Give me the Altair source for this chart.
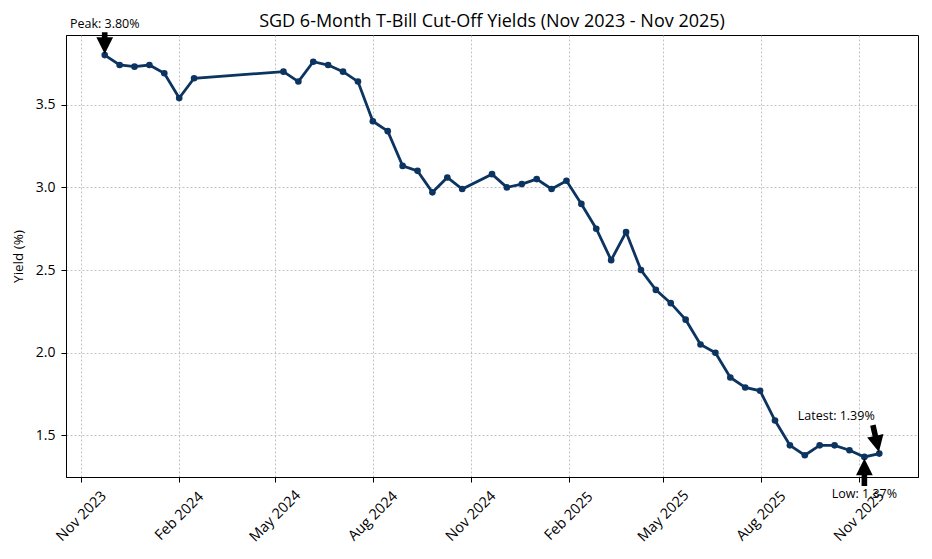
import math
import altair as alt
import pandas as pd

# ---------------- data ----------------
auction_dates = [
    "2023-11-23", "2023-12-07", "2023-12-21", "2024-01-04", "2024-01-18", "2024-02-01", "2024-02-15",
    "2024-05-09", "2024-05-23", "2024-06-06", "2024-06-20", "2024-07-04", "2024-07-18", "2024-08-01",
    "2024-08-15", "2024-08-29", "2024-09-12", "2024-09-26", "2024-10-10", "2024-10-24",
    "2024-11-21", "2024-12-05", "2024-12-19", "2025-01-02", "2025-01-16", "2025-01-30", "2025-02-13",
    "2025-02-27", "2025-03-13", "2025-03-27", "2025-04-10", "2025-04-24", "2025-05-08", "2025-05-22",
    "2025-06-05", "2025-06-19", "2025-07-03", "2025-07-17", "2025-07-31", "2025-08-14", "2025-08-28",
    "2025-09-11", "2025-09-25", "2025-10-09", "2025-10-23", "2025-11-06", "2025-11-20",
]
cutoff_yields = [
    3.80, 3.74, 3.73, 3.74, 3.69, 3.54, 3.66,
    3.70, 3.64, 3.76, 3.74, 3.70, 3.64, 3.40,
    3.34, 3.13, 3.10, 2.97, 3.06, 2.99,
    3.08, 3.00, 3.02, 3.05, 2.99, 3.04, 2.90,
    2.75, 2.56, 2.73, 2.50, 2.38, 2.30, 2.20,
    2.05, 2.00, 1.85, 1.79, 1.77, 1.59, 1.44,
    1.38, 1.44, 1.44, 1.41, 1.37, 1.39,
]
x_tick_dates = ["2023-11-01", "2024-02-01", "2024-05-01", "2024-08-01", "2024-11-01",
                "2025-02-01", "2025-05-01", "2025-08-01", "2025-11-01"]
y_ticks = [1.5, 2.0, 2.5, 3.0, 3.5]
chart_title = "SGD 6-Month T-Bill Cut-Off Yields (Nov 2023 - Nov 2025)"
y_title = "Yield (%)"

FONT = "Open Sans"
NAVY = "#0c3461"

df = pd.DataFrame({"date": auction_dates, "yield": cutoff_yields})

# ---------------- scale domains (5% margins like matplotlib) ----------------
ts = pd.to_datetime(df["date"])
span = ts.max() - ts.min()
x_lo = ts.min() - span * 0.05
x_hi = ts.max() + span * 0.05
yr = max(cutoff_yields) - min(cutoff_yields)
y_lo = min(cutoff_yields) - 0.05 * yr
y_hi = max(cutoff_yields) + 0.05 * yr


def dt(t):
    t = pd.Timestamp(t)
    return alt.DateTime(year=t.year, month=t.month, date=t.day,
                        hours=t.hour, minutes=t.minute, utc=True)


x_scale = alt.Scale(type="utc", domain=[dt(x_lo), dt(x_hi)], nice=False)
y_scale = alt.Scale(domain=[y_lo, y_hi], nice=False, zero=False)

X = alt.X("date:T", scale=x_scale, title=None,
          axis=alt.Axis(values=[dt(d) for d in x_tick_dates],
                        labelExpr="utcFormat(datum.value, '%b %Y')",
                        labelAngle=-45, labelAlign="center", labelBaseline="middle",
                        labelPadding=34, tickSize=5, grid=True, labelFontSize=14.5))
Y = alt.Y("yield:Q", scale=y_scale, title=y_title,
          axis=alt.Axis(values=y_ticks, format=".1f", tickSize=5, labelPadding=6, grid=True,
                        labelFontSize=14,
                        titleX=-48, titleY=221, titleAngle=-90, titleAlign="center",
                        titleBaseline="middle"))

base = alt.Chart(df)
line = base.mark_line(color=NAVY, strokeWidth=2.8).encode(x=X, y=Y)
dots = base.mark_point(filled=True, color=NAVY, size=44, opacity=1, strokeWidth=0).encode(x=X, y=Y)

# ---------------- annotations ----------------
i_peak = cutoff_yields.index(max(cutoff_yields))
i_low = cutoff_yields.index(min(cutoff_yields))
i_last = len(cutoff_yields) - 1
notes = pd.DataFrame({
    "date": [auction_dates[i_peak], auction_dates[i_low], auction_dates[i_last]],
    "yield": [cutoff_yields[i_peak], cutoff_yields[i_low], cutoff_yields[i_last]],
    "label": [f"Peak: {cutoff_yields[i_peak]:.2f}%", f"Low: {cutoff_yields[i_low]:.2f}%",
              f"Latest: {cutoff_yields[i_last]:.2f}%"],
    "kind": ["peak", "low", "latest"],
})


def arrow_path(sx, sy, shrink=0.05, head_len=16.7, head_w=8.35, shaft_w=2.8):
    """Filled matplotlib-style arrow (path units = px with size=4) from text toward the point."""
    tipx, tipy = shrink * sx, shrink * sy
    tailx, taily = (1 - shrink) * sx, (1 - shrink) * sy
    L = math.hypot(tipx - tailx, tipy - taily)
    ux, uy = (tipx - tailx) / L, (tipy - taily) / L
    nx, ny = -uy, ux
    bx, by = tipx - head_len * ux, tipy - head_len * uy
    pts = [
        (tipx, tipy),
        (bx + head_w * nx, by + head_w * ny),
        (bx + shaft_w * nx, by + shaft_w * ny),
        (tailx + shaft_w * nx, taily + shaft_w * ny),
        (tailx - shaft_w * nx, taily - shaft_w * ny),
        (bx - shaft_w * nx, by - shaft_w * ny),
        (bx - head_w * nx, by - head_w * ny),
    ]
    return "M" + " L".join(f"{x:.2f},{y:.2f}" for x, y in pts) + " Z"


layers = [line, dots]
specs = {
    "peak": dict(start=(0, -24), dx=0, dy=-31),
    "low": dict(start=(0, 30.5), dx=0, dy=37.5),
    "latest": dict(start=(-6.7, -30), dx=-43, dy=-38),
}
for kind, s in specs.items():
    nb = alt.Chart(notes).transform_filter(alt.datum.kind == kind)
    layers.append(nb.mark_point(shape=arrow_path(*s["start"]), size=4, filled=True,
                                color="black", opacity=1, strokeWidth=0).encode(x=X, y=Y))
    layers.append(nb.mark_text(dx=s["dx"], dy=s["dy"], fontSize=12.5, font=FONT, color="black",
                               align="center", baseline="middle").encode(x=X, y=Y, text="label:N"))

chart = (
    alt.layer(*layers)
    .properties(
        width=852, height=442,
        padding={"left": 58, "top": 27, "right": 4, "bottom": 70},
        autosize=alt.AutoSizeParams(type="none"),
        title=alt.TitleParams(text=chart_title, fontSize=18, font=FONT, fontWeight="normal",
                              color="black", anchor="middle", offset=4, dy=17),
    )
    .configure_view(stroke="black", strokeWidth=1)
    .configure_axis(
        labelFont=FONT, titleFont=FONT, labelFontSize=13, titleFontSize=13.5,
        labelColor="black", titleColor="black", titleFontWeight="normal",
        domainColor="black", tickColor="black", domainWidth=1, tickWidth=1,
        gridColor="#b4b4b4", gridDash=[2, 2], gridWidth=0.8,
    )
)

chart.save("out.html", embed_options={"renderer": "svg", "actions": False})
